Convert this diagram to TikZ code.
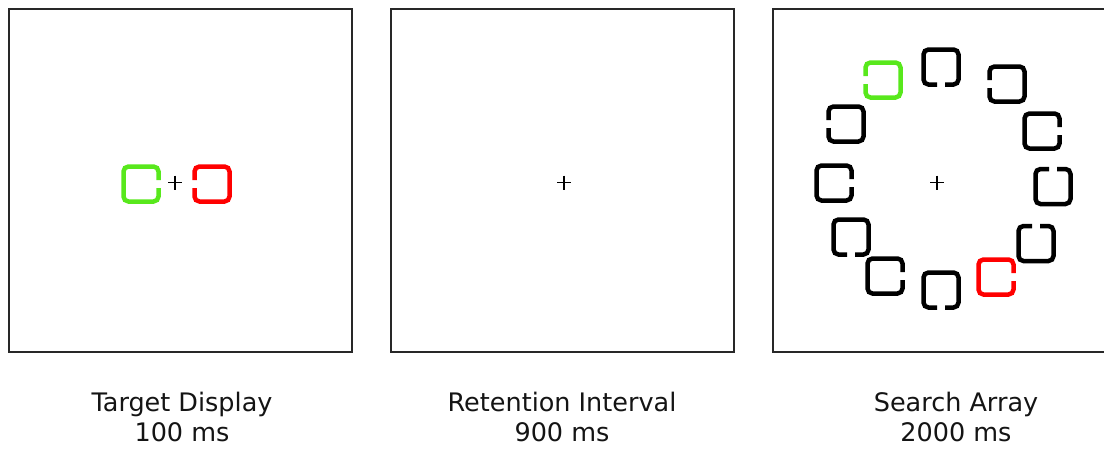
\documentclass[tikz,border=0pt]{standalone}
\usepackage{fontspec}
\setmainfont{DejaVu Sans}
\definecolor{tgreen}{RGB}{88,232,28}
\definecolor{tred}{RGB}{255,0,0}
\definecolor{frame}{RGB}{40,40,40}
\tikzset{
  x=1pt, y=-1pt,
  panel/.style={draw=frame, line width=2pt, minimum width=343pt, minimum height=343pt, inner sep=0pt, fill=none},
  lab/.style={font=\fontsize{25.5}{30}\selectfont, anchor=base, inner sep=0pt, text=black!92},
  fix/.style={line width=1.6pt, black},
  sq/.style={line width=4.5pt, rounded corners=5pt},
  gapR/.pic={\draw[sq] (17.5,-4) -- (17.5,-17.5) -- (-17.5,-17.5) -- (-17.5,17.5) -- (17.5,17.5) -- (17.5,4);},
  gapL/.pic={\draw[sq] (-17.5,-4) -- (-17.5,-17.5) -- (17.5,-17.5) -- (17.5,17.5) -- (-17.5,17.5) -- (-17.5,4);},
  gapT/.pic={\draw[sq] (-4,-17.5) -- (-17.5,-17.5) -- (-17.5,17.5) -- (17.5,17.5) -- (17.5,-17.5) -- (4,-17.5);},
  gapB/.pic={\draw[sq] (-4,17.5) -- (-17.5,17.5) -- (-17.5,-17.5) -- (17.5,-17.5) -- (17.5,17.5) -- (4,17.5);},
  cross/.pic={\draw[fix] (-7,0) -- (7,0); \draw[fix] (0,-7) -- (0,7);}
}
\begin{document}
\begin{tikzpicture}
\useasboundingbox (0,0) rectangle (1104,448);
% panels
\node[panel] (p1) at (180,180) {};
\node[panel] (p2) at (562.5,180) {};
\node[panel] (p3) at (944.5,180) {};
% labels
\node[lab] (t1) at (182,411) {Target Display};
\node[lab] (d1) at (182,441) {100 ms};
\node[lab] (t2) at (562,411) {Retention Interval};
\node[lab] (d2) at (562,441) {900 ms};
\node[lab] (t3) at (956,411) {Search Array};
\node[lab] (d3) at (956,441) {2000 ms};
% fixation crosses
\pic at (175,182.5) {cross};
\pic at (564,182.5) {cross};
\pic at (937,182.5) {cross};
% target display
\pic[tgreen] at (141,184) {gapR};
\pic[tred] at (212,184) {gapL};
% search array
\pic[tgreen] at (883,80) {gapL};
\pic[black] at (941,67) {gapB};
\pic[black] at (1007,84) {gapL};
\pic[black] at (1042,131) {gapR};
\pic[black] at (1053,186.5) {gapT};
\pic[black] at (1036,243.5) {gapT};
\pic[tred] at (996,277) {gapR};
\pic[black] at (941,290) {gapB};
\pic[black] at (885,276) {gapR};
\pic[black] at (851,237) {gapB};
\pic[black] at (834,183) {gapR};
\pic[black] at (846,124) {gapL};
\end{tikzpicture}
\end{document}
